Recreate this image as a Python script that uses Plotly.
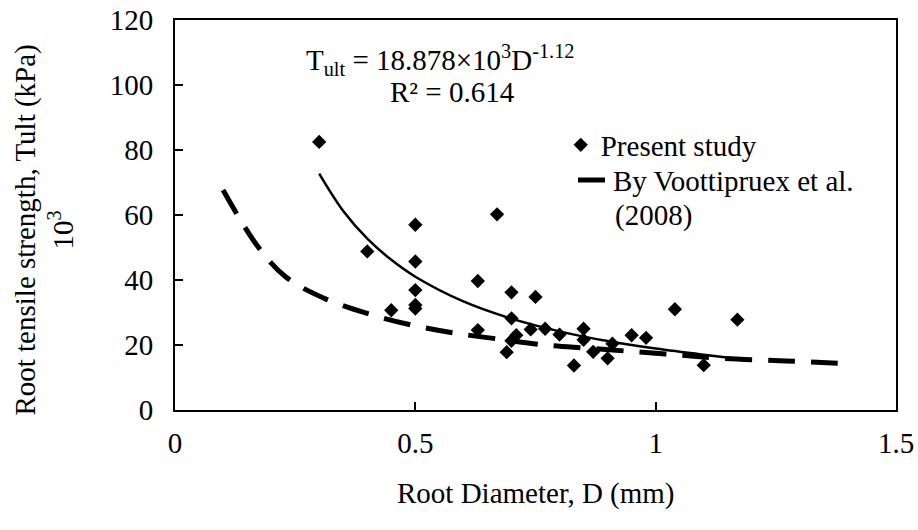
import plotly.graph_objects as go

# Present study: measured root diameters (mm) and tensile strengths (x10^3 kPa)
diameter = [0.30, 0.40, 0.45, 0.50, 0.50, 0.50, 0.50, 0.50, 0.63, 0.63, 0.67,
            0.69, 0.70, 0.70, 0.70, 0.71, 0.74, 0.75, 0.77, 0.80, 0.83, 0.85,
            0.85, 0.87, 0.90, 0.91, 0.95, 0.98, 1.04, 1.10, 1.17]
tult = [82.5, 48.8, 30.7, 57.0, 45.7, 36.9, 32.3, 31.2, 39.7, 24.6, 60.2,
        17.8, 36.2, 28.2, 21.3, 23.0, 24.8, 34.8, 25.0, 23.2, 13.7, 25.0,
        21.6, 17.9, 15.9, 20.4, 23.0, 22.2, 31.0, 13.8, 27.8]

# Power trendline (T = 18.878e3 D^-1.12)
trend_d = [0.30, 0.35, 0.40, 0.45, 0.50, 0.60, 0.70, 0.80, 0.90, 1.00, 1.10, 1.17]
trend_t = [72.7, 61.2, 52.7, 46.2, 41.0, 33.4, 28.1, 24.2, 21.2, 18.9, 17.0, 15.8]

# Voottipruex et al. (2008) relation
voot_d = [0.10, 0.17, 0.23, 0.31, 0.40, 0.49, 0.58, 0.68, 0.77, 0.86, 0.96, 1.05, 1.14, 1.27, 1.40]
voot_t = [67.7, 50.8, 41.0, 34.4, 29.7, 26.2, 23.7, 21.7, 20.0, 19.0, 17.9, 16.9, 15.9, 15.1, 14.2]

x_ticks = [0, 0.5, 1, 1.5]
x_tick_text = ["0", "0.5", "1", "1.5"]
y_ticks = [0, 20, 40, 60, 80, 100, 120]

FONT = "Liberation Serif"
FS = 29

fig = go.Figure()
fig.add_trace(go.Scatter(
    x=diameter, y=tult, mode="markers", name="Present study", legend="legend",
    marker=dict(symbol="diamond", size=11, color="black", line=dict(width=0)),
))
fig.add_trace(go.Scatter(
    x=voot_d, y=voot_t, mode="lines", name="By Voottipruex et al.", legend="legend2",
    line=dict(color="black", width=5, dash="27px,16px", shape="spline"),
))
fig.add_trace(go.Scatter(
    x=trend_d, y=trend_t, mode="lines", showlegend=False,
    line=dict(color="black", width=2.5, shape="spline"),
))

axis_common = dict(
    showline=True, linecolor="black", linewidth=2, mirror=True,
    ticks="inside", ticklen=8, tickwidth=2, tickcolor="black",
    showgrid=False, zeroline=False, automargin=False,
    tickfont=dict(family=FONT, size=FS, color="black"),
)

legend_common = dict(
    xanchor="left", yanchor="top", bgcolor="rgba(0,0,0,0)",
    font=dict(family=FONT, size=FS, color="black"), itemwidth=30,
)

fig.update_layout(
    template="none",
    width=918, height=530,
    margin=dict(l=175, r=22, t=20, b=120, pad=0),
    paper_bgcolor="white", plot_bgcolor="white",
    font=dict(family=FONT, size=FS, color="black"),
    showlegend=True,
    legend=dict(x=0.535, y=0.745, **legend_common),
    legend2=dict(x=0.552, y=0.655, **legend_common),
    xaxis=dict(range=[0, 1.5], tickvals=x_ticks, ticktext=x_tick_text,
               ticklabelstandoff=6, **axis_common),
    yaxis=dict(range=[0, 120], tickvals=y_ticks,
               ticklabelstandoff=14, **axis_common),
    annotations=[
        dict(text="(2008)", xref="paper", yref="paper", x=0.607, y=0.5,
             xanchor="left", yanchor="middle", showarrow=False,
             font=dict(family=FONT, size=FS)),
        dict(text="Root Diameter, D (mm)", xref="paper", yref="paper",
             x=0.5, y=0, yshift=-83, xanchor="center", yanchor="middle",
             showarrow=False, font=dict(family=FONT, size=FS)),
        dict(text="Root tensile strength, Tult (kPa)<br>10<sup>3</sup>",
             xref="paper", yref="paper", x=0, y=0.46, xshift=-131,
             xanchor="center", yanchor="middle", textangle=-90,
             showarrow=False, font=dict(family=FONT, size=FS)),
        dict(text="T<sub>ult</sub> = 18.878×10<sup>3</sup>D<sup>-1.12</sup>",
             xref="paper", yref="paper", x=0, y=1, xshift=129, yshift=-40,
             xanchor="left", yanchor="middle", showarrow=False,
             font=dict(family=FONT, size=FS)),
        dict(text="R² = 0.614",
             xref="paper", yref="paper", x=0, y=1, xshift=213, yshift=-72,
             xanchor="left", yanchor="middle", showarrow=False,
             font=dict(family=FONT, size=FS)),
    ],
)

fig.write_html("out.html", config={"displayModeBar": False},
               post_script="document.body.style.margin='0';")
